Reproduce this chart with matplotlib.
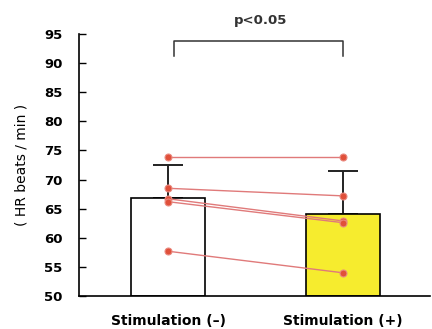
import numpy as np
import matplotlib.pyplot as plt

plt.rcParams['font.family'] = ['DejaVu Sans']

# data
groups = ["Stimulation (\u2013)", "Stimulation (+)"]
means = [66.8, 64.1]
sd_upper = [5.7, 7.4]
before = [73.9, 68.5, 66.7, 66.2, 57.7]
after = [73.9, 67.2, 62.9, 62.6, 54.0]

fig = plt.figure(figsize=(4.32, 3.29), dpi=100)
ax = fig.add_axes([0.183, 0.100, 0.812, 0.797])

x = np.arange(len(groups))
ax.bar(x, [m - 50 for m in means], bottom=50, width=0.42,
       color=['white', '#f6ec2e'], edgecolor='black', linewidth=1.2, zorder=2)
ax.errorbar(x, means, yerr=[[0, 0], sd_upper], fmt='none', ecolor='#222222',
            elinewidth=1.4, capsize=11, capthick=1.4, zorder=1)

# individual subjects
for b, a in zip(before, after):
    ax.plot(x, [b, a], color='#e07a7a', lw=1.0, zorder=3)
    ax.plot(x, [b, a], 'o', ms=5, mfc='#e0503a', mec='#ea8a80', mew=0.8, zorder=4)

# significance bracket
ax.plot([0.035, 0.035, 1.0, 1.0], [91.2, 93.7, 93.7, 91.2], color='#333333', lw=1.1,
        clip_on=False)
ax.text(0.53, 96.1, "p<0.05", ha='center', va='bottom', fontsize=9.5, fontweight='bold',
        color='#333333')

ax.set_xlim(-0.509, 1.497)
ax.set_ylim(50, 95)
ax.set_yticks(np.arange(50, 96, 5))
ax.set_xticks(x)
ax.set_xticklabels(groups, fontsize=10, fontweight='bold')
ax.tick_params(axis='x', length=0, pad=13)
ax.tick_params(axis='y', direction='in', length=5, width=1, labelsize=9.5, pad=12)
for lab in ax.get_yticklabels():
    lab.set_fontweight('bold')
ax.set_ylabel("( HR beats / min )", fontsize=10)
ax.yaxis.set_label_coords(-0.145, 0.5)

ax.spines['top'].set_visible(False)
ax.spines['right'].set_visible(False)
ax.spines['left'].set_linewidth(1.2)
ax.spines['bottom'].set_linewidth(1.2)

fig.savefig("out.png", dpi=100)
